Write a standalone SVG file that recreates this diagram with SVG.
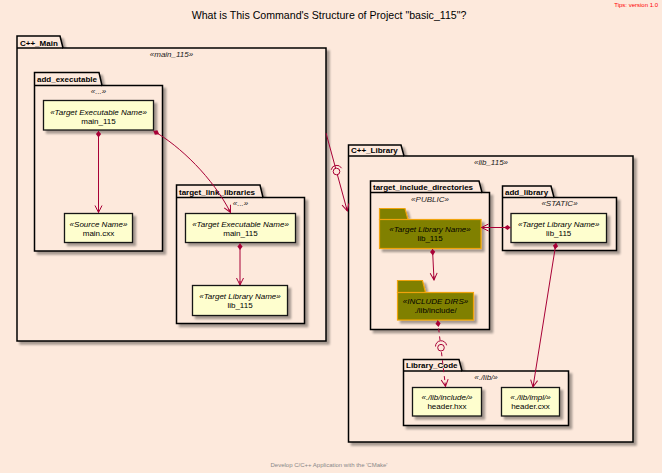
<svg xmlns="http://www.w3.org/2000/svg" width="662" height="473" viewBox="0 0 662 473">
<defs>
<style>
text{font-family:"Liberation Sans",Arial,sans-serif;fill:#000}
.title{font-size:10.6px}
.tips{font-size:6px;fill:#FF0000}
.foot{font-size:6px;fill:#888888}
.pkg{fill:#FDE9DC;stroke:#000;stroke-width:1.5;filter:url(#sh)}
.pl{font-size:8px;font-weight:bold}
.st{font-size:8px;font-style:italic;text-anchor:middle;fill:#222}
.nd{fill:#FEFECE;stroke:#181818;stroke-width:1.3;filter:url(#sh)}
.fd{fill:#808000;stroke:#F0A30A;stroke-width:1.2;filter:url(#sh)}
.nm{font-size:8px;text-anchor:middle}
.ns{font-size:8px;font-style:italic;text-anchor:middle}
.ln{fill:none;stroke:#A80036;stroke-width:1}
.ck{fill:#FDE9DC;stroke:#A80036;stroke-width:1}
</style>
<filter id="sh" x="-10%" y="-10%" width="130%" height="140%">
<feGaussianBlur in="SourceAlpha" stdDeviation="1.2"/>
<feOffset dx="3" dy="3" result="o"/>
<feComponentTransfer><feFuncA type="linear" slope="0.35"/></feComponentTransfer>
<feMerge><feMergeNode/><feMergeNode in="SourceGraphic"/></feMerge>
</filter>
<marker id="arr" viewBox="-9 -5 10 10" refX="0" refY="0" markerWidth="10" markerHeight="10" markerUnits="userSpaceOnUse" orient="auto">
<path d="M-7,-3.5 L0,0 L-7,3.5 M0,0 L-4,0" fill="none" stroke="#A80036" stroke-width="1"/>
</marker>
<marker id="dia" viewBox="-1 -4 10 8" refX="0" refY="0" markerWidth="10" markerHeight="8" markerUnits="userSpaceOnUse" orient="auto">
<path d="M0,0 L3,-2.6 L6.5,0 L3,2.6 Z" fill="#A80036"/>
</marker>
</defs>
<rect width="662" height="473" fill="#FDE9DC"/>
<text class="title" x="329" y="19" text-anchor="middle">What is This Command's Structure of Project "basic_115"?</text>
<text class="tips" x="658" y="6.5" text-anchor="end">Tips: version 1.0</text>

<g id="pkg_main">
<path class="pkg" d="M17,48 L17,36 L60,36 L63,48 L326,48 L326,341 L17,341 Z"/>
<path d="M17,48 L63,48" stroke="#000" stroke-width="1.5"/>
<text class="pl" x="20" y="45.5">C++_Main</text>
<text class="st" x="171.5" y="57">«main_115»</text>
</g>
<g id="pkg_add_executable">
<path class="pkg" d="M34.5,85.5 L34.5,72.5 L99,72.5 L102,85.5 L162.5,85.5 L162.5,251 L34.5,251 Z"/>
<path d="M34.5,85.5 L102,85.5" stroke="#000" stroke-width="1.5"/>
<text class="pl" x="37" y="82">add_executable</text>
<text class="st" x="98.5" y="94">«...»</text>
</g>
<g id="pkg_target_link_libraries">
<path class="pkg" d="M176.5,197.5 L176.5,185 L260,185 L263,197.5 L304.5,197.5 L304.5,323.5 L176.5,323.5 Z"/>
<path d="M176.5,197.5 L263,197.5" stroke="#000" stroke-width="1.5"/>
<text class="pl" x="179" y="194.5">target_link_libraries</text>
<text class="st" x="240.5" y="206">«...»</text>
</g>
<g id="pkg_library">
<path class="pkg" d="M348.5,156 L348.5,145 L401,145 L404,156 L633,156 L633,442 L348.5,442 Z"/>
<path d="M348.5,156 L404,156" stroke="#000" stroke-width="1.5"/>
<text class="pl" x="351" y="153">C++_Library</text>
<text class="st" x="491" y="165">«lib_115»</text>
</g>
<g id="pkg_target_include_directories">
<path class="pkg" d="M370.5,192.5 L370.5,181 L479,181 L482,192.5 L489.5,192.5 L489.5,329.5 L370.5,329.5 Z"/>
<path d="M370.5,192.5 L482,192.5" stroke="#000" stroke-width="1.5"/>
<text class="pl" x="373" y="189.5">target_include_directories</text>
<text class="st" x="430" y="201.5">«PUBLIC»</text>
</g>
<g id="pkg_add_library">
<path class="pkg" d="M502.5,197.5 L502.5,186 L551,186 L554,197.5 L616.5,197.5 L616.5,250.5 L502.5,250.5 Z"/>
<path d="M502.5,197.5 L554,197.5" stroke="#000" stroke-width="1.5"/>
<text class="pl" x="505" y="194.5">add_library</text>
<text class="st" x="559.5" y="206">«STATIC»</text>
</g>
<g id="pkg_library_code">
<path class="pkg" d="M403.5,371 L403.5,359.5 L459,359.5 L462,371 L568.5,371 L568.5,425.5 L403.5,425.5 Z"/>
<path d="M403.5,371 L462,371" stroke="#000" stroke-width="1.5"/>
<text class="pl" x="406" y="368">Library_Code</text>
<text class="st" x="486" y="380">«./lib/»</text>
</g>

<g id="n_exe_main">
<rect class="nd" x="43.5" y="100.5" width="110" height="29.5"/>
<text class="ns" x="98.5" y="114.5">«Target Executable Name»</text>
<text class="nm" x="98.5" y="123.5">main_115</text>
</g>
<g id="n_main_cxx">
<rect class="nd" x="64.5" y="213.5" width="68" height="29"/>
<text class="ns" x="98.5" y="227">«Source Name»</text>
<text class="nm" x="98.5" y="236">main.cxx</text>
</g>
<g id="n_tll_main">
<rect class="nd" x="185.5" y="213.5" width="110" height="29"/>
<text class="ns" x="240.5" y="227">«Target Executable Name»</text>
<text class="nm" x="240.5" y="236">main_115</text>
</g>
<g id="n_tll_lib">
<rect class="nd" x="192.5" y="285.5" width="95" height="30"/>
<text class="ns" x="240" y="299">«Target Library Name»</text>
<text class="nm" x="240" y="308">lib_115</text>
</g>
<g id="n_static_lib">
<rect class="nd" x="511" y="213.5" width="95.5" height="29"/>
<text class="ns" x="558.7" y="227">«Target Library Name»</text>
<text class="nm" x="558.7" y="235.5">lib_115</text>
</g>
<g id="f_public_lib">
<g class="fd"><path d="M379.5,219.5 L379.5,208.5 L405,208.5 L408,219.5 Z"/><rect x="379.5" y="219.5" width="101.5" height="29"/></g>
<text class="ns" x="430" y="231.5">«Target Library Name»</text>
<text class="nm" x="430" y="240.5">lib_115</text>
</g>
<g id="f_include_dirs">
<g class="fd"><path d="M397.5,292.5 L397.5,280.5 L422.5,280.5 L425.5,292.5 Z"/><rect x="397.5" y="292.5" width="76" height="27.5"/></g>
<text class="ns" x="435.5" y="304">«INCLUDE DIRS»</text>
<text class="nm" x="435.5" y="312.5">./lib/include/</text>
</g>
<g id="n_header_hxx">
<rect class="nd" x="412.5" y="387.5" width="69" height="28.5"/>
<text class="ns" x="447" y="400">«./lib/include/»</text>
<text class="nm" x="447" y="409">header.hxx</text>
</g>
<g id="n_header_cxx">
<rect class="nd" x="501.5" y="387.5" width="58" height="28.5"/>
<text class="ns" x="530.5" y="400">«./lib/impl/»</text>
<text class="nm" x="530.5" y="409">header.cxx</text>
</g>

<g id="connectors">
<path class="ln" d="M98.5,131 L98.5,212.5" marker-start="url(#dia)" marker-end="url(#arr)"/>
<path class="ln" d="M153.5,131 C180,146 213,178 230.5,212.5" marker-start="url(#dia)" marker-end="url(#arr)"/>
<path class="ln" d="M240,243.5 L240,285" marker-start="url(#dia)" marker-end="url(#arr)"/>
<path class="ln" d="M326,133 L347.3,211" marker-end="url(#arr)"/>
<circle class="ck" cx="336.5" cy="171.5" r="3.3"/>
<path class="ln" d="M331.2,169.8 A5.6,5.6 0 0 1 341.6,168.2"/>
<path class="ln" d="M510.5,227.5 L481.5,227.5" marker-start="url(#dia)" marker-end="url(#arr)"/>
<path class="ln" d="M432.5,249 L434,280" marker-start="url(#dia)" marker-end="url(#arr)"/>
<path class="ln" d="M437.7,320.5 L445.5,386.5" stroke-dasharray="4,4" marker-start="url(#dia)" marker-end="url(#arr)"/>
<circle class="ck" cx="441" cy="347.7" r="3.3"/>
<path class="ln" d="M435.5,346.5 A5.6,5.6 0 0 1 446.6,345.3"/>
<path class="ln" d="M556,243 L533,387" marker-start="url(#dia)" marker-end="url(#arr)"/>
</g>

<text class="foot" x="329" y="467" text-anchor="middle">Develop C/C++ Application with the 'CMake'</text>
</svg>
